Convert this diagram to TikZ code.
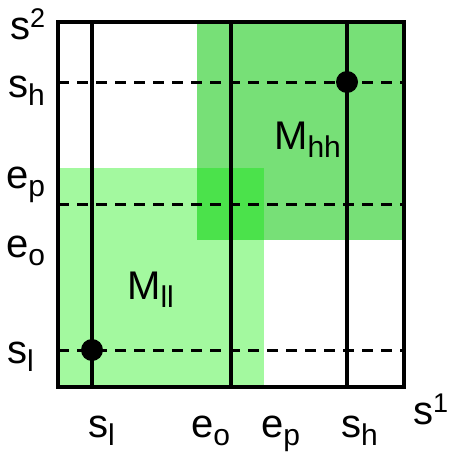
\documentclass[tikz,border=0pt]{standalone}
\usepackage{fontspec}
\setmainfont{Liberation Sans}
\usetikzlibrary{positioning}

\definecolor{lowgreen}{RGB}{163,249,159}
\definecolor{highgreen}{RGB}{119,224,119}
\definecolor{bothgreen}{RGB}{75,226,75}

\newcommand{\lowidx}[1]{\raisebox{-0.22em}{\fontsize{30}{30}\selectfont #1}}
\newcommand{\upidx}[1]{\raisebox{0.3em}{\fontsize{27}{27}\selectfont #1}}

\begin{document}
\begin{tikzpicture}[x=1pt, y=-1pt,
    lab/.style={anchor=base west, inner sep=0pt, font=\fontsize{40}{42}\selectfont},
    dot/.style={circle, fill=black, minimum size=22pt, inner sep=0pt},
    solidline/.style={line width=3.3pt},
    dashline/.style={line width=3pt, dash pattern=on 11pt off 8pt},
]
\useasboundingbox (0,0) rectangle (451,460);

% set regions
\fill[lowgreen] (58,168) rectangle (264,387);
\fill[highgreen] (197,22) rectangle (404,240);
\fill[bothgreen] (197,168) rectangle (264,240);

% grid
\foreach \x in {92,231,347} {
    \draw[solidline] (\x,22) -- (\x,387);
}
\foreach \y in {82,204,350} {
    \draw[dashline] (58,\y) -- (404,\y);
}
\draw[solidline] (58,22) rectangle (404,387);

% equilibria
\node[dot] (low) at (92,350) {};
\node[dot] (high) at (347,82) {};

% axis labels
\node[lab] (s2) at (10,40) {s\upidx{2}};
\node[lab] (s1) at (413,424) {s\upidx{1}};
\node[lab] (ysh) at (8,97) {s\lowidx{h}};
\node[lab] (yep) at (6,188) {e\lowidx{p}};
\node[lab] (yeo) at (6,257) {e\lowidx{o}};
\node[lab] (ysl) at (7,363) {s\lowidx{l}};
\node[lab] (xsl) at (88,437) {s\lowidx{l}};
\node[lab] (xeo) at (191,437) {e\lowidx{o}};
\node[lab] (xep) at (261,437) {e\lowidx{p}};
\node[lab] (xsh) at (341,437) {s\lowidx{h}};

% regions
\node[lab] (mhh) at (274,149) {M\lowidx{hh}};
\node[lab] (mll) at (127,299) {M\lowidx{ll}};

\end{tikzpicture}
\end{document}
